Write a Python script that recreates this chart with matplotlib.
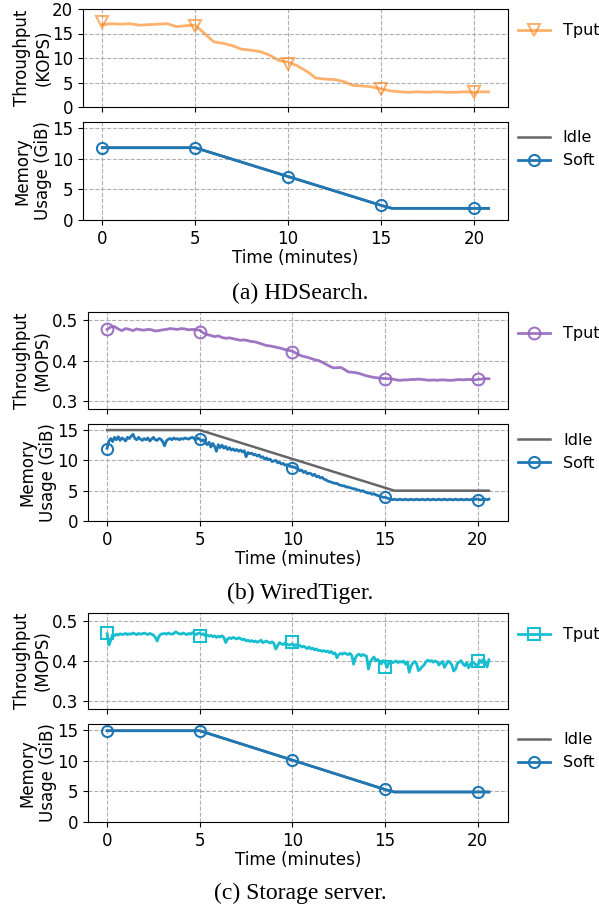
import numpy as np
import matplotlib
matplotlib.use("Agg")
import matplotlib.pyplot as plt
from matplotlib.lines import Line2D

# marker times (minutes)
mark_t = [0, 5, 10, 15, 20]

# ---- (a) HDSearch ----
a_tput_t = np.arange(0, 20.51, 0.5).tolist() + [20.8]
a_tput = [16.8, 17.0, 16.9, 17.0, 16.7, 16.8, 16.9, 17.0, 16.4, 16.6,
          16.7, 15.0, 13.3, 13.0, 12.5, 11.8, 11.6, 11.3, 10.6, 9.5,
          9.2, 8.4, 7.3, 5.9, 5.7, 5.6, 5.2, 4.4, 4.3, 4.1,
          3.7, 3.3, 3.1, 3.0, 3.1, 3.0, 3.1, 3.0, 3.0, 3.1,
          3.0, 3.1, 3.1]
a_tput_mark = [17.3, 16.5, 8.8, 3.6, 3.0]
a_mem_t = [0, 5, 10, 15, 15.6, 20, 20.8]
a_soft = [11.8, 11.8, 7.1, 2.4, 1.9, 1.9, 1.9]
a_idle = [11.8, 11.8, 7.1, 2.4, 1.9, 1.9, 1.9]
a_soft_mark = [11.8, 11.7, 7.1, 2.5, 1.9]

# ---- (b) WiredTiger ----
b_tput_t = np.round(np.arange(0, 20.61, 0.2), 2)
b_tput = [0.477, 0.483, 0.484, 0.478, 0.474,
          0.479, 0.477, 0.474, 0.478, 0.476,
          0.475, 0.477, 0.476, 0.473, 0.474,
          0.476, 0.477, 0.479, 0.478, 0.477,
          0.479, 0.478, 0.476, 0.477, 0.476,
          0.475, 0.468, 0.464, 0.462, 0.459,
          0.461, 0.457, 0.455, 0.456, 0.454,
          0.452, 0.450, 0.451, 0.449, 0.447,
          0.446, 0.443, 0.440, 0.437, 0.436,
          0.434, 0.432, 0.430, 0.427, 0.425,
          0.423, 0.418, 0.413, 0.410, 0.408,
          0.405, 0.402, 0.400, 0.396, 0.391,
          0.386, 0.382, 0.382, 0.383, 0.378,
          0.372, 0.371, 0.370, 0.368, 0.365,
          0.362, 0.360, 0.358, 0.357, 0.356,
          0.355, 0.355, 0.354, 0.352, 0.351,
          0.352, 0.352, 0.353, 0.353, 0.354,
          0.353, 0.352, 0.351, 0.352, 0.351,
          0.352, 0.352, 0.351, 0.351, 0.352,
          0.353, 0.352, 0.353, 0.353, 0.352,
          0.353, 0.354, 0.355, 0.355]
b_tput_mark = [0.477, 0.470, 0.420, 0.355, 0.354]

b_mem_t = np.round(np.arange(0, 20.61, 0.1), 2)
b_soft = [12.0, 13.2, 13.6, 13.1, 13.8, 13.4, 13.9, 13.3, 13.7, 13.5,
          13.2, 13.8, 13.6, 14.0, 14.3, 13.6, 13.4, 13.8, 13.5, 13.3,
          13.6, 13.4, 13.7, 13.2, 13.5, 13.8, 13.4, 13.3, 13.6, 13.5,
          13.1, 12.4, 13.2, 13.5, 13.6, 13.4, 13.7, 13.5, 13.6, 13.4,
          13.6, 13.5, 13.7, 13.6, 13.5, 13.7, 13.8, 13.6, 13.4, 13.7,
          13.5, 13.2, 13.4, 12.9, 12.6, 13.0, 12.2, 12.8, 12.3, 11.5,
          12.6, 12.1, 12.5, 12.0, 12.3, 11.8, 12.1, 11.7, 11.9, 11.6,
          11.8, 11.5, 11.7, 11.4, 11.6, 10.6, 11.3, 11.1, 11.2, 10.9,
          11.0, 10.7, 10.9, 10.5, 10.6, 10.2, 10.4, 10.1, 10.2, 9.8,
          9.9, 10.0, 9.6, 9.7, 9.4, 9.5, 9.2, 9.3, 9.1, 9.0,
          8.9, 8.9, 8.7, 8.6, 8.3, 8.4, 8.0, 8.2, 7.8, 7.9,
          7.8, 7.5, 7.7, 7.3, 7.4, 7.1, 7.2, 6.9, 6.8, 6.6,
          6.5, 6.4, 6.3, 6.2, 6.2, 6.0, 5.9, 5.8, 5.8, 5.6,
          5.6, 5.5, 5.4, 5.3, 5.3, 5.1, 5.1, 4.9, 5.0, 4.8,
          4.7, 4.6, 4.6, 4.4, 4.5, 4.3, 4.2, 4.1, 4.0, 3.9,
          3.9, 3.8, 3.7, 3.6, 3.5, 3.6, 3.5, 3.5, 3.6, 3.5,
          3.5, 3.6, 3.5, 3.5, 3.6, 3.5, 3.5, 3.6, 3.5, 3.5,
          3.6, 3.5, 3.5, 3.6, 3.5, 3.5, 3.6, 3.5, 3.5, 3.6,
          3.5, 3.5, 3.6, 3.5, 3.5, 3.6, 3.5, 3.5, 3.6, 3.5,
          3.5, 3.6, 3.5, 3.5, 3.6, 3.5, 3.5, 3.6, 3.5, 3.6,
          3.6, 3.5, 3.5, 3.6, 3.6, 3.5, 3.6]
b_idle_t = [0, 5, 15.5, 20.6]
b_idle = [15, 15, 5, 5]
b_soft_mark = [11.9, 13.5, 8.8, 3.9, 3.5]

# ---- (c) Storage server ----
c_tput_t = np.round(np.arange(0, 20.61, 0.1), 2)
c_tput = [0.468, 0.440, 0.452, 0.466, 0.463, 0.467, 0.465, 0.468, 0.466, 0.467,
          0.469, 0.466, 0.468, 0.467, 0.470, 0.468, 0.466, 0.469, 0.467, 0.468,
          0.470, 0.468, 0.466, 0.469, 0.467, 0.465, 0.459, 0.450, 0.462, 0.467,
          0.468, 0.469, 0.467, 0.470, 0.468, 0.467, 0.469, 0.473, 0.470, 0.468,
          0.467, 0.470, 0.468, 0.466, 0.469, 0.467, 0.471, 0.468, 0.466, 0.469,
          0.470, 0.466, 0.468, 0.463, 0.465, 0.462, 0.464, 0.461, 0.463, 0.459,
          0.462, 0.460, 0.463, 0.459, 0.446, 0.455, 0.458, 0.456, 0.459, 0.457,
          0.455, 0.458, 0.456, 0.453, 0.455, 0.450, 0.452, 0.449, 0.451, 0.448,
          0.450, 0.447, 0.449, 0.452, 0.446, 0.448, 0.450, 0.447, 0.445, 0.448,
          0.444, 0.430, 0.438, 0.446, 0.443, 0.441, 0.445, 0.442, 0.440, 0.441,
          0.443, 0.438, 0.441, 0.437, 0.439, 0.435, 0.437, 0.434, 0.431, 0.435,
          0.430, 0.432, 0.428, 0.430, 0.426, 0.427, 0.424, 0.426, 0.423, 0.425,
          0.421, 0.424, 0.418, 0.420, 0.408, 0.416, 0.419, 0.417, 0.420, 0.418,
          0.416, 0.419, 0.414, 0.392, 0.408, 0.415, 0.417, 0.413, 0.416, 0.414,
          0.412, 0.380, 0.398, 0.405, 0.410, 0.400, 0.404, 0.398, 0.393, 0.401,
          0.397, 0.384, 0.395, 0.399, 0.396, 0.398, 0.400, 0.396, 0.399, 0.397,
          0.400, 0.392, 0.398, 0.372, 0.388, 0.395, 0.399, 0.393, 0.376, 0.380,
          0.386, 0.390, 0.398, 0.402, 0.399, 0.401, 0.397, 0.400, 0.398, 0.390,
          0.395, 0.399, 0.384, 0.392, 0.400, 0.396, 0.390, 0.375, 0.380, 0.394,
          0.397, 0.401, 0.393, 0.388, 0.396, 0.383, 0.392, 0.398, 0.394, 0.391,
          0.388, 0.402, 0.396, 0.404, 0.398, 0.385, 0.403]
c_tput_mark = [0.470, 0.463, 0.448, 0.386, 0.400]
c_mem_t = [0, 5, 10, 15, 15.5, 20.6]
c_soft = [14.9, 14.9, 10.1, 5.3, 4.9, 4.9]
c_idle = [14.9, 14.9, 10.1, 5.3, 4.9, 4.9]
c_soft_mark = [14.9, 14.8, 10.1, 5.4, 4.9]

blue = "#1f77b4"
gray = "#666666"
FS = 12

fig = plt.figure(figsize=(5.99, 9.09), dpi=100)


def style(ax):
    ax.grid(True, linestyle="--", color="#b0b0b0", linewidth=0.8)
    ax.set_axisbelow(True)
    ax.tick_params(labelsize=FS)
    ax.set_xticks([0, 5, 10, 15, 20])


def tput_panel(rect, t, y, mt, my, color, marker, alpha, ylim, yticks, ylabel):
    ax = fig.add_axes(rect)
    ax.plot(t, y, color=color, lw=2, alpha=alpha)
    ax.plot(mt, my, ls="none", marker=marker, ms=8.5, mfc="none",
            mec=color, mew=1.5, alpha=alpha)
    style(ax)
    ax.set_ylim(*ylim)
    ax.set_yticks(yticks)
    ax.set_xticklabels([])
    ax.set_ylabel(ylabel, fontsize=FS, labelpad=0)
    h = Line2D([], [], color=color, lw=2, marker=marker, ms=8.5, mfc="none",
               mew=1.5, alpha=alpha)
    ax.legend([h], ["Tput"], loc="upper left", bbox_to_anchor=(0.99, 1.0),
              frameon=False, fontsize=11.5)
    return ax


def mem_panel(rect, it, iy, t, y, my):
    ax = fig.add_axes(rect)
    ax.plot(it, iy, color=gray, lw=1.8)
    ax.plot(t, y, color=blue, lw=2)
    ax.plot(mark_t, my, ls="none", marker="o", ms=8, mfc="none",
            mec=blue, mew=1.5)
    style(ax)
    ax.set_ylim(0, 16)
    ax.set_yticks([0, 5, 10, 15])
    ax.set_ylabel("Memory\nUsage (GiB)", fontsize=FS, labelpad=0)
    ax.set_xlabel("Time (minutes)", fontsize=FS, labelpad=1)
    hi = Line2D([], [], color=gray, lw=1.8)
    hs = Line2D([], [], color=blue, lw=2, marker="o", ms=8, mfc="none", mew=1.5)
    ax.legend([hi, hs], ["Idle", "Soft"], loc="upper left",
              bbox_to_anchor=(0.99, 1.06), frameon=False, fontsize=11.5)
    return ax


H = 909.0
W = 599.0


def rect(l, r, top, bot):
    return [l / W, 1 - bot / H, (r - l) / W, (bot - top) / H]


# (a)
tput_panel(rect(83, 508, 9, 107), a_tput_t, a_tput, mark_t, a_tput_mark,
           "#ff7f0e", "v", 0.6, (0, 20), [0, 5, 10, 15, 20],
           "Throughput\n(KOPS)")
mem_panel(rect(83, 508, 122, 220), a_mem_t, a_idle, a_mem_t, a_soft, a_soft_mark)

# (b)
tput_panel(rect(88, 508, 312, 409), b_tput_t, b_tput, mark_t, b_tput_mark,
           "#9467bd", "o", 0.9, (0.28, 0.52), [0.3, 0.4, 0.5],
           "Throughput\n(MOPS)")
mem_panel(rect(88, 508, 424, 521), b_idle_t, b_idle, b_mem_t, b_soft, b_soft_mark)

# (c)
tput_panel(rect(88, 508, 613, 709), c_tput_t, c_tput, mark_t, c_tput_mark,
           "#17becf", "s", 1.0, (0.28, 0.52), [0.3, 0.4, 0.5],
           "Throughput\n(MOPS)")
mem_panel(rect(88, 508, 724, 822), c_mem_t, c_idle, c_mem_t, c_soft, c_soft_mark)

cap = dict(ha="center", va="center", fontsize=17, family="Liberation Serif")
fig.text(300 / W, 1 - 293 / H, "(a) HDSearch.", **cap)
fig.text(300 / W, 1 - 593 / H, "(b) WiredTiger.", **cap)
fig.text(300 / W, 1 - 893 / H, "(c) Storage server.", **cap)

fig.savefig("out.png", dpi=100)
